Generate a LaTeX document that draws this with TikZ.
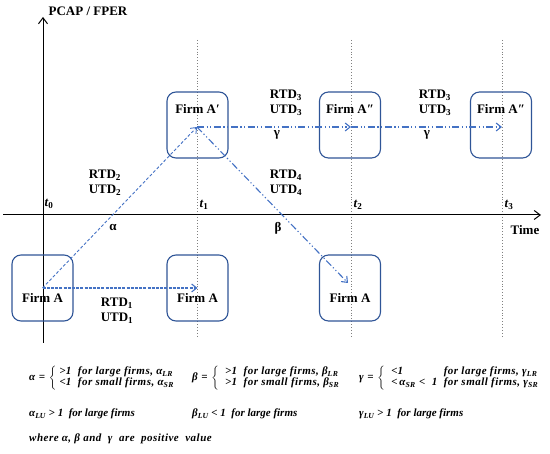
\documentclass[tikz,border=0pt]{standalone}
\usepackage{fontspec}
\setmainfont{Liberation Serif}
\newfontfamily\fmlfont[LetterSpace=4.5]{Liberation Serif}
\usetikzlibrary{arrows.meta}
\definecolor{boxblue}{RGB}{47,85,151}
\definecolor{arrblue}{RGB}{68,114,196}
\tikzset{
  firm/.style={draw=boxblue, line width=1.1pt, rounded corners=9pt, minimum width=61pt, minimum height=66pt, inner sep=0pt},
  lbl/.style={font=\fontsize{13}{15}\selectfont\bfseries, align=center, inner sep=0pt},
  tlbl/.style={font=\fontsize{13}{15}\selectfont\bfseries\itshape, inner sep=0pt},
  formula/.style={font=\fontsize{11}{12}\selectfont\bfseries\itshape, inner sep=0pt, anchor=west},
  formulaw/.style={font=\fontsize{11}{12}\selectfont\fmlfont\bfseries\itshape, inner sep=0pt, anchor=west},
  axis/.style={line width=1pt, -{Straight Barb[length=6pt,width=9pt]}},
  tline/.style={gray, dotted, line width=0.9pt},
  tip/.style={-{Straight Barb[length=5pt,width=8pt]}},
  dsh/.style={arrblue, line width=0.9pt, dash pattern=on 3pt off 2pt, tip},
  dshh/.style={arrblue, line width=1.1pt, dash pattern=on 3pt off 1.2pt, tip},
  ddot/.style={arrblue, line width=1.1pt, dash pattern=on 7pt off 2.5pt on 1.2pt off 2.5pt on 1.2pt off 2.5pt, tip},
}
\newcommand{\sbs}[1]{\textsubscript{\upshape #1}}
\newcommand{\isb}[1]{\textsubscript{#1}}
\begin{document}
\begin{tikzpicture}[x=1pt,y=-1pt]
\useasboundingbox (0,0) rectangle (550,454);
% time lines
\draw[tline] (197,40) -- (197,338);
\draw[tline] (351,40) -- (351,338);
\draw[tline] (502,40) -- (502,338);
% axes
\coordinate (yb) at (43,343);
\coordinate (yt) at (43,17);
\coordinate (xl) at (3,215);
\coordinate (xr) at (541,215);
\draw[axis] (yb) -- (yt);
\draw[axis] (xl) -- (xr);
\node[lbl] (ylab) at (88,11) {PCAP / FPER};
\node[lbl] (xlab) at (525,230) {Time};
\node[tlbl] (t0) at (49,204) {t\sbs{0}};
\node[tlbl] (t1) at (204,205) {t\sbs{1}};
\node[tlbl] (t2) at (358,205) {t\sbs{2}};
\node[tlbl] (t3) at (509,205) {t\sbs{3}};
% boxes
\node[firm] (a0) at (42.5,288) {};
\node[firm] (a1) at (197.5,288) {};
\node[firm] (a2) at (350,288) {};
\node[firm] (b1) at (197.5,125) {};
\node[firm] (c2) at (350,125) {};
\node[firm] (c3) at (501,125) {};
\node[lbl] at ([yshift=-10pt]a0.center) {Firm A};
\node[lbl] at ([yshift=-10pt]a1.center) {Firm A};
\node[lbl] at ([yshift=-10pt]a2.center) {Firm A};
\node[lbl] at ([yshift=16pt]b1.center) {Firm A′};
\node[lbl] at ([yshift=16pt]c2.center) {Firm A″};
\node[lbl] at ([yshift=16pt]c3.center) {Firm A″};
% connectors
\coordinate (b1c) at (197,127);
\coordinate (c2c) at (351,127);
\coordinate (c3c) at (502,127);
\draw[dsh] (a0.center) -- (b1c);
\draw[dshh] (a0.center) -- (a1.center);
\draw[ddot] (b1c) -- (c2c);
\draw[ddot] (c2c) -- (c3c);
\draw[ddot] (b1c) -- (348,283);
% labels
\node[lbl] at (105,183) {RTD\textsubscript{2}\\UTD\textsubscript{2}};
\node[lbl] at (113,228) {α};
\node[lbl] at (117,311) {RTD\textsubscript{1}\\UTD\textsubscript{1}};
\node[lbl] at (286,103) {RTD\textsubscript{3}\\UTD\textsubscript{3}};
\node[lbl] at (277,135) {γ};
\node[lbl] at (435,103) {RTD\textsubscript{3}\\UTD\textsubscript{3}};
\node[lbl] at (427,135) {γ};
\node[lbl] at (286,183) {RTD\textsubscript{4}\\UTD\textsubscript{4}};
\node[lbl] at (278,228) {β};
% formulas
\renewcommand{\arraystretch}{0.85}
\node[formulaw] (fa) at (29,378) {α\,\,=\,\,$\left\{\mbox{\begin{tabular}{@{\ }l@{}} {\upshape\textgreater}1\ \ for large firms, α\isb{LR}\\ {\upshape\textless}1\ \ for small firms, α\isb{SR}\end{tabular}}\right.$};
\node[formulaw] (fb) at (192,378) {β\,\,=\,\,$\left\{\mbox{\begin{tabular}{@{\ \ }l@{}} {\upshape\textgreater}1\ \ for large firms, β\isb{LR}\\ {\upshape\textgreater}1\ \ for small firms, β\isb{SR}\end{tabular}}\right.$};
\node[formulaw] (fg) at (359,378) {γ\,\,=\,\,$\left\{\mbox{\begin{tabular}{@{\ \ }l@{\ \ }l@{}} {\upshape\textless}1 & for large firms, γ\isb{LR}\\ {\upshape\textless}\,α\isb{SR} {\upshape\textless}\ \ 1 & for small firms, γ\isb{SR}\end{tabular}}\right.$};
\node[formula] (la) at (29,414) {α\isb{LU} {\upshape\textgreater} 1\ \ for large firms};
\node[formula] (lb) at (192,414) {β\isb{LU} {\upshape\textless} 1\ \ for large firms};
\node[formula] (lg) at (359,414) {γ\isb{LU} {\upshape\textgreater} 1\ \ for large firms};
\node[formulaw] (wh) at (29,439) {where α, β and\ \ γ\ \ are\ \ positive\ \ value};
\end{tikzpicture}
\end{document}
